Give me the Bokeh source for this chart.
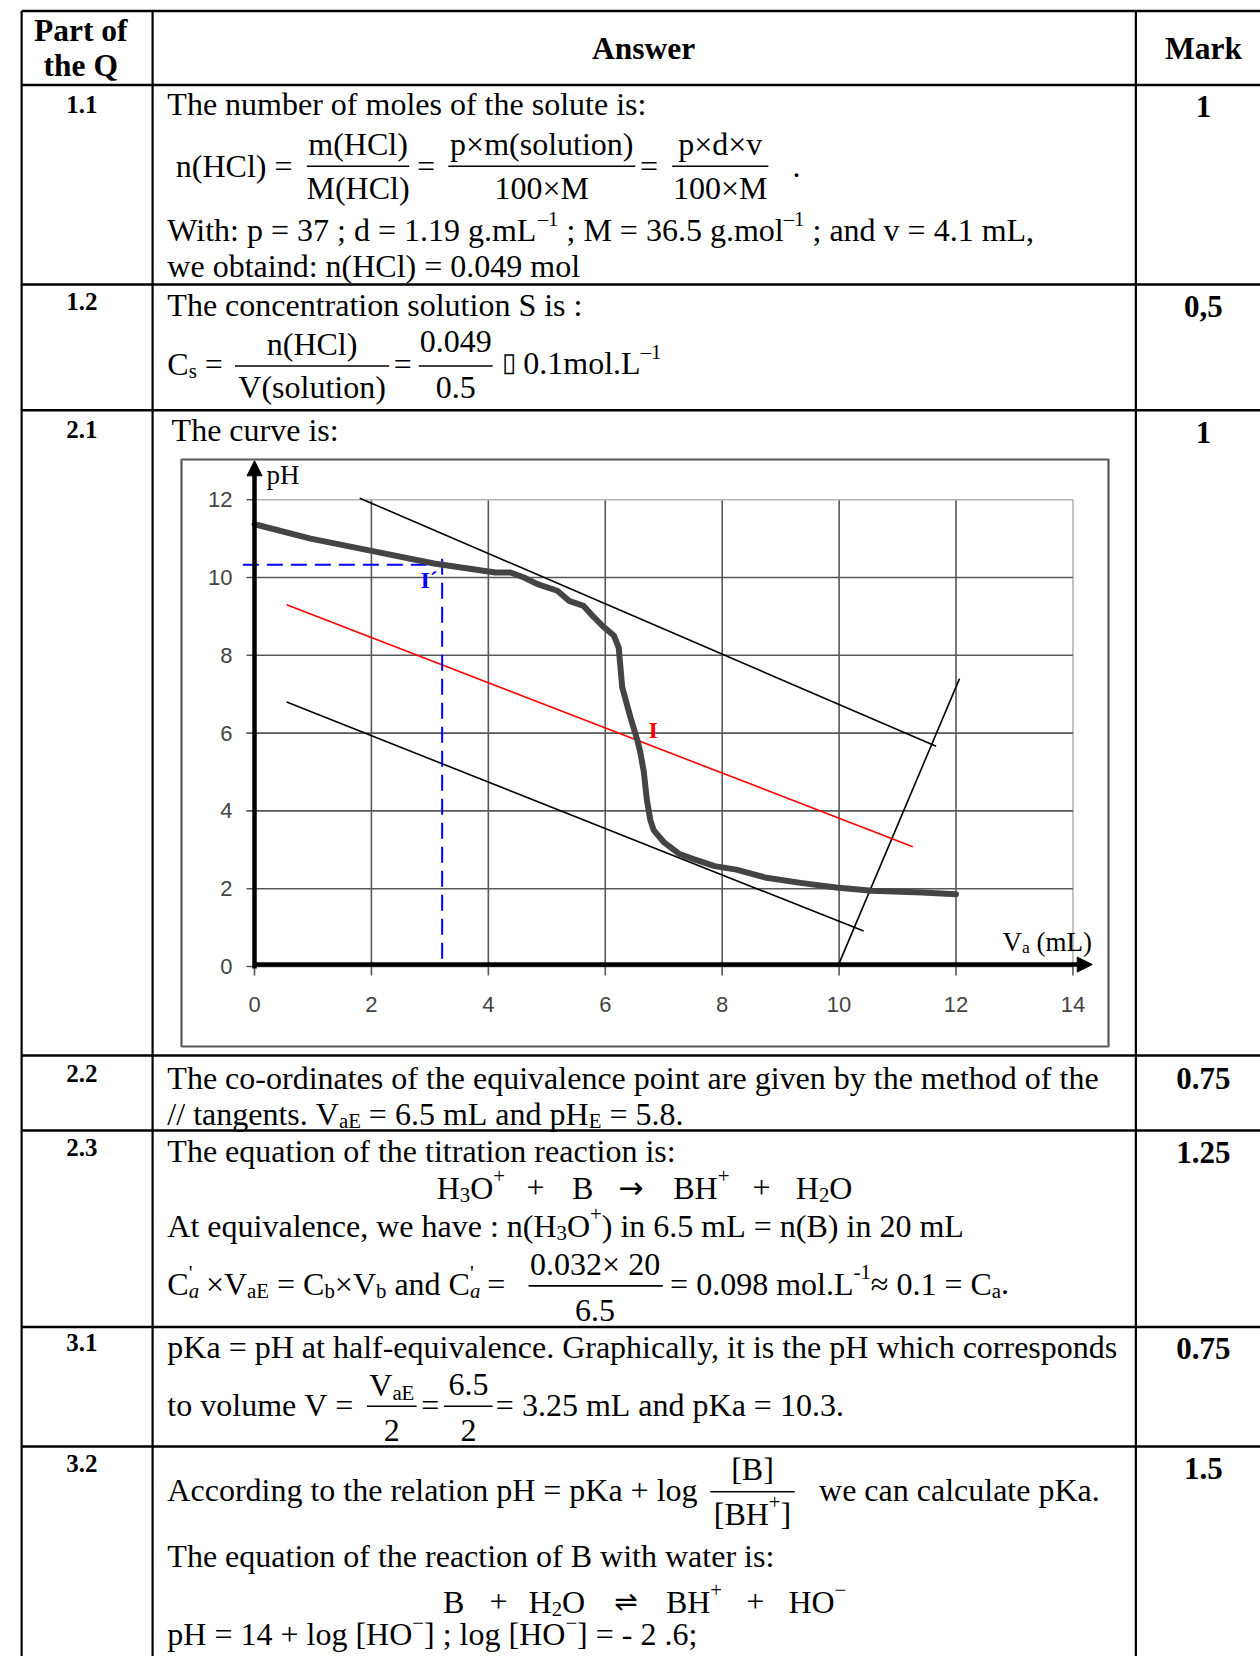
from collections import defaultdict
from bokeh.plotting import figure
from bokeh.models import Range1d, Arrow, NormalHead
from bokeh.core.properties import value
from bokeh.embed import file_html
from bokeh.resources import INLINE

# ---------------- chart data (titration curve) ----------------
va = [0.0, 0.96, 1.98, 3.07, 4.12, 4.38, 4.61, 4.84, 5.18, 5.38, 5.63, 5.78, 5.98, 6.15, 6.23,
      6.29, 6.43, 6.55, 6.60, 6.66, 6.71, 6.77, 6.83, 7.00, 7.26, 7.51, 7.87, 8.24, 8.73, 9.34,
      9.95, 10.56, 11.42, 12.0]
ph = [11.37, 11.0, 10.69, 10.36, 10.13, 10.13, 10.0, 9.83, 9.66, 9.40, 9.27, 9.02, 8.72, 8.50,
      8.20, 7.18, 6.41, 5.81, 5.5, 5.0, 4.3, 3.77, 3.5, 3.2, 2.9, 2.76, 2.58, 2.49, 2.29, 2.15,
      2.03, 1.95, 1.90, 1.86]
x_ticks = [0, 2, 4, 6, 8, 10, 12, 14]
y_ticks = [0, 2, 4, 6, 8, 10, 12]
tan_upper_x = [1.80, 11.66]
tan_upper_y = [12.04, 5.66]
tan_lower_x = [0.55, 10.42]
tan_lower_y = [6.80, 0.91]
mid_x = [0.55, 11.26]
mid_y = [9.30, 3.08]
steep_x = [10.0, 12.06]
steep_y = [0.08, 7.40]
half_v = 3.21
pka_y = 10.33
pka_top = 10.48

# ---------------- table content ----------------
part_labels = ["1.1", "1.2", "2.1", "2.2", "2.3", "3.1", "3.2"]
marks = ["1", "0,5", "1", "0.75", "1.25", "0.75", "1.5"]

# ---------------- layout constants ----------------
W, H = 1260, 1656
S = 1260 / 1193.0          # reference preview -> full pixel scale
F = 32.0                   # body font size (px)
TDY = -9.0                 # text baseline correction (preview px)
SERIF = "Liberation Serif"
SANS = "Liberation Sans"

row_lines = [10, 80, 269, 388, 999, 1070, 1256, 1369]
col_lines = [20, 144, 1075]
label_base = [107, 294, 415, 1025, 1095, 1280, 1394]
mark_base = [109, 299, 418, 1030, 1100, 1285, 1399]

# chart calibration (screen px)
CX0, CUX = 254.0, 58.46
CY0, CUY = 966.0, 38.9

p = figure(width=W, height=H, x_range=Range1d(0, W), y_range=Range1d(H, 0),
           output_backend="svg", toolbar_location=None, x_axis_location=None,
           y_axis_location=None, min_border=0, outline_line_color=None)
p.xgrid.visible = False
p.ygrid.visible = False
p.background_fill_color = "white"
p.border_fill_color = "white"
p.extra_x_ranges = {"cx": Range1d((0 - CX0) / CUX, (W - CX0) / CUX)}
p.extra_y_ranges = {"cy": Range1d((CY0 - H) / CUY, (CY0 - 0) / CUY)}
CR = dict(x_range_name="cx", y_range_name="cy")

# ---------------- text metrics (Times / Liberation Serif) ----------------
_chars = " !\"#$%&'()*+,-./0123456789:;<=>?@ABCDEFGHIJKLMNOPQRSTUVWXYZ[\\]^_`abcdefghijklmnopqrstuvwxyz{|}~"
_widths = [250, 333, 408, 500, 500, 833, 778, 180, 333, 333, 500, 564, 250, 333, 250, 278,
           500, 500, 500, 500, 500, 500, 500, 500, 500, 500,
           278, 278, 564, 564, 564, 444, 921,
           722, 667, 667, 722, 611, 556, 722, 722, 333, 389, 722, 611, 889, 722, 722, 556,
           722, 667, 556, 611, 722, 722, 944, 722, 722, 611,
           333, 278, 333, 469, 500, 333,
           444, 500, 444, 500, 444, 333, 500, 500, 278, 278, 500, 278, 778, 500, 500, 500,
           500, 333, 389, 278, 500, 500, 722, 500, 500, 444,
           480, 200, 480, 541]
TW = dict(zip(_chars, _widths))
TW.update({'×': 564, '≈': 549, '–': 500, '−': 564, '→': 1000, '⇌': 1000, '´': 333, '▯': 600})

items = []


def put(x, y, t, size, style="normal", color="black", align="left", font=SERIF):
    items.append((x, y, t.replace(" ", "\u00a0"), size, style, color, align, font))


def tw(t, size):
    return sum(TW.get(c, 500) for c in t) * size / 1000.0


SUBK = 0.65


def seg_w(t, k, size):
    if k == "n":
        return tw(t, size)
    if k in ("sub", "sup"):
        return tw(t, size * SUBK)
    return max(tw(t[0], size * SUBK), tw(t[1], size * SUBK))


def rich(x, y, segs, size=F, align="left", color="black", style="normal"):
    if isinstance(segs, str):
        segs = [(segs, "n")]
    total = sum(seg_w(t, k, size) for t, k in segs)
    cx = x - total / 2 if align == "center" else x
    s2 = size * SUBK
    for t, k in segs:
        if k == "n":
            put(cx, y, t, size, style=style, color=color)
        elif k == "sub":
            put(cx, y + 0.22 * size, t, s2, style=style, color=color)
        elif k == "sup":
            put(cx, y - 0.36 * size, t, s2, style=style, color=color)
        else:
            put(cx, y - 0.36 * size, t[0], s2, color=color)
            put(cx, y + 0.22 * size, t[1], s2, style="italic", color=color)
        cx += seg_w(t, k, size)
    return cx


def R(xs, ys, segs, **kw):
    return rich(xs * S, (ys + TDY) * S, segs, **kw)


def SYM(xs, ys, t, size=30):
    put(xs * S, (ys + TDY) * S, t, size, font="DejaVu Sans")


bars = []


def frac(xc, x0, x1, yb, num, yn, den, yd):
    bars.append((x0 * S, x1 * S, yb * S))
    R(xc, yn, num, align="center")
    R(xc, yd, den, align="center")


# ---------------- table grid ----------------
p.segment(x0=[col_lines[0] * S] * len(row_lines), x1=[W + 10] * len(row_lines),
          y0=[v * S for v in row_lines], y1=[v * S for v in row_lines],
          line_color="black", line_width=2.5)
p.segment(x0=[v * S for v in col_lines], x1=[v * S for v in col_lines],
          y0=[row_lines[0] * S] * len(col_lines), y1=[H + 10] * len(col_lines),
          line_color="black", line_width=2.2)

# header
put(76 * S, 28 * S, "Part of", 31.5, style="bold", align="center")
put(76 * S, 62 * S, "the Q", 31.5, style="bold", align="center")
put(609 * S, 45 * S, "Answer", 31.5, style="bold", align="center")
put(1139 * S, 45 * S, "Mark", 31.5, style="bold", align="center")

for lab, yb in zip(part_labels, label_base):
    put(77 * S, (yb + TDY) * S, lab, 25, style="bold", align="center")
for mk, yb in zip(marks, mark_base):
    put(1139 * S, (yb + TDY) * S, mk, 31, style="bold", align="center")

LX = 158
# ---- 1.1
R(LX, 107, "The number of moles of the solute is:")
R(166, 166, "n(HCl) =")
frac(338.5, 290, 387, 157, "m(HCl)", 145, "M(HCl)", 187)
R(403, 166, "=", align="center")
frac(512.5, 424, 601, 157, "p×m(solution)", 145, "100×M", 187)
R(614, 166, "=", align="center")
frac(681.5, 636, 727, 157, "p×d×v", 145, "100×M", 187)
R(750, 166, ".")
R(LX, 226, [("With: p = 37 ; d = 1.19 g.mL", "n"), ("–1", "sup"), (" ; M = 36.5 g.mol", "n"),
            ("–1", "sup"), (" ; and v = 4.1 mL,", "n")])
R(LX, 260, "we obtaind: n(HCl) = 0.049 mol")

# ---- 1.2
R(LX, 297, "The concentration solution S is :")
R(LX, 353, [("C", "n"), ("s", "sub"), (" =", "n")])
frac(295, 222, 368, 346, "n(HCl)", 334, "V(solution)", 375)
R(381, 353, "=", align="center")
frac(431, 396, 466, 346, "0.049", 332, "0.5", 375)
R(475, 352, "▯", size=26)
R(495, 352, [("0.1mol.L", "n"), ("–1", "sup")])

# ---- 2.1
R(162, 416, "The curve is:")

# ---- 2.2
R(LX, 1029, "The co-ordinates of the equivalence point are given by the method of the")
R(LX, 1063, [("// tangents. V", "n"), ("aE", "sub"), (" = 6.5 mL and pH", "n"), ("E", "sub"),
             (" = 5.8.", "n")])

# ---- 2.3
R(LX, 1098, "The equation of the titration reaction is:")
R(413, 1133, [("H", "n"), ("3", "sub"), ("O", "n"), ("+", "sup")])
R(498, 1133, "+")
R(541, 1133, "B")
SYM(585, 1133, "→")
R(637, 1133, [("BH", "n"), ("+", "sup")])
R(712, 1133, "+")
R(753, 1133, [("H", "n"), ("2", "sub"), ("O", "n")])
R(LX, 1169, [("At equivalence, we have : n(H", "n"), ("3", "sub"), ("O", "n"), ("+", "sup"),
             (") in 6.5 mL = n(B) in 20 mL", "n")])
R(LX, 1224, [("C", "n"), (("'", "a"), "ss"), (" ×V", "n"), ("aE", "sub"), (" = C", "n"),
             ("b", "sub"), ("×V", "n"), ("b", "sub"), (" and C", "n"), (("'", "a"), "ss"),
             (" =", "n")])
frac(563, 500, 627, 1217, "0.032× 20", 1205, "6.5", 1249)
R(634, 1224, [("= 0.098 mol.L", "n"), ("-1", "sup"), ("≈ 0.1 = C", "n"), ("a", "sub"), (".", "n")])

# ---- 3.1
R(LX, 1284, "pKa = pH at half-equivalence. Graphically, it is the pH which corresponds")
R(LX, 1339, "to volume V =")
frac(370.5, 347, 394, 1331, [("V", "n"), ("aE", "sub")], 1320, "2", 1363)
R(407, 1339, "=", align="center")
frac(443, 420, 466, 1331, "6.5", 1319, "2", 1363)
R(469, 1339, "= 3.25 mL and pKa = 10.3.")

# ---- 3.2
R(LX, 1419, "According to the relation pH = pKa + log")
frac(712, 672, 752, 1412, "[B]", 1399, [("[BH", "n"), ("+", "sup"), ("]", "n")], 1442)
R(775, 1419, "we can calculate pKa.")
R(LX, 1482, "The equation of the reaction of B with water is:")
R(419, 1525, "B")
R(463, 1525, "+")
R(500, 1525, [("H", "n"), ("2", "sub"), ("O", "n")])
SYM(581, 1525, "⇌", size=28)
R(630, 1525, [("BH", "n"), ("+", "sup")])
R(706, 1525, "+")
R(746, 1525, [("HO", "n"), ("−", "sup")])
R(LX, 1556, [("pH = 14 + log [HO", "n"), ("−", "sup"), ("] ; log [HO", "n"), ("−", "sup"),
             ("] = - 2 .6;", "n")])

# fraction bars
p.segment(x0=[b[0] for b in bars], x1=[b[1] for b in bars], y0=[b[2] for b in bars],
          y1=[b[2] for b in bars], line_color="black", line_width=1.6)

# ---------------- chart ----------------
p.quad(left=[181], right=[1108], top=[459], bottom=[1046], fill_color=None,
       line_color="#585858", line_width=2.2)

vcol = ["#585858"] * (len(x_ticks) - 1) + ["#b4b4b4"]
hcol = ["#585858"] * (len(y_ticks) - 1) + ["#b4b4b4"]
p.segment(x0=x_ticks, x1=x_ticks, y0=[y_ticks[0]] * len(x_ticks), y1=[y_ticks[-1]] * len(x_ticks),
          line_color=vcol, line_width=1.6, **CR)
p.segment(x0=[x_ticks[0]] * len(y_ticks), x1=[x_ticks[-1]] * len(y_ticks), y0=y_ticks, y1=y_ticks,
          line_color=hcol, line_width=1.6, **CR)
# tick marks
p.segment(x0=[0] * len(y_ticks), x1=[-8 / CUX] * len(y_ticks), y0=y_ticks, y1=y_ticks,
          line_color="#585858", line_width=1.6, **CR)
p.segment(x0=x_ticks, x1=x_ticks, y0=[0] * len(x_ticks), y1=[-9 / CUY] * len(x_ticks),
          line_color="#585858", line_width=1.6, **CR)
# tick labels
p.text(x=[-22 / CUX] * len(y_ticks), y=y_ticks, text=[str(v) for v in y_ticks],
       text_font=value(SANS), text_font_size=value("22px"), text_color="#444444",
       text_align="right", text_baseline="middle", **CR)
p.text(x=x_ticks, y=[-38 / CUY] * len(x_ticks), text=[str(v) for v in x_ticks],
       text_font=value(SANS), text_font_size=value("22px"), text_color="#444444",
       text_align="center", text_baseline="middle", **CR)

# tangents and construction lines
p.line(tan_upper_x, tan_upper_y, line_color="black", line_width=1.6, **CR)
p.line(tan_lower_x, tan_lower_y, line_color="black", line_width=1.6, **CR)
p.line(steep_x, steep_y, line_color="black", line_width=1.6, **CR)
p.line(mid_x, mid_y, line_color="#ff0000", line_width=1.6, **CR)
p.line([-0.2, half_v], [pka_y, pka_y], line_color="#0000ff", line_width=2, line_dash="16 8", **CR)
p.line([half_v, half_v], [pka_top, 0], line_color="#0000ff", line_width=2, line_dash="16 8", **CR)

# titration curve
p.line(va, ph, line_color="#444444", line_width=6, line_join="round", line_cap="round", **CR)

# axes arrows
p.add_layout(Arrow(end=NormalHead(size=15, fill_color="black", line_color="black", line_width=1),
                   x_start=0, y_start=-0.05, x_end=0, y_end=13.0, line_width=4.5,
                   line_color="black", **CR))
p.add_layout(Arrow(end=NormalHead(size=15, fill_color="black", line_color="black", line_width=1),
                   x_start=0, y_start=0.05, x_end=14.33, y_end=0.05, line_width=4.5,
                   line_color="black", **CR))

# chart labels
put(266, 474, "pH", 27)
rich(1002, 941, [("V", "n"), ("a", "sub"), (" (mL)", "n")], size=27)
put(420, 579, "I´", 24, style="bold", color="#0000ff")
put(648, 729, "I", 24, style="bold", color="#ff0000")

# ---------------- render text items ----------------
groups = defaultdict(lambda: {"x": [], "y": [], "t": []})
for x, y, t, size, style, color, align, font in items:
    g = groups[(round(size, 2), style, color, align, font)]
    g["x"].append(x)
    g["y"].append(y)
    g["t"].append(t)
for (size, style, color, align, font), g in groups.items():
    p.text(x=g["x"], y=g["y"], text=g["t"], text_font=value(font),
           text_font_size=value(f"{size}px"), text_font_style=style, text_color=color,
           text_align=align, text_baseline="alphabetic")

open("out.html", "w").write(file_html(p, INLINE))
